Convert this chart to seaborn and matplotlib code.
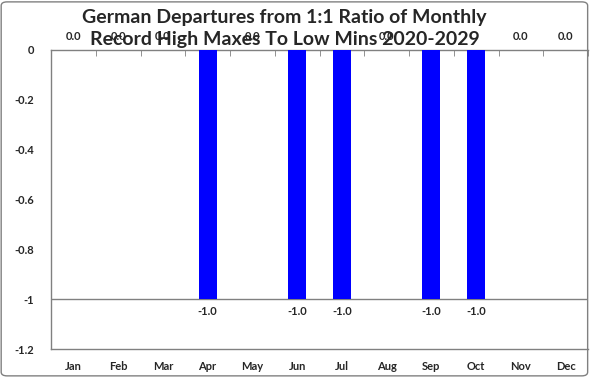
import numpy as np
import pandas as pd
import seaborn as sns
from matplotlib import pyplot as plt
from matplotlib.patches import FancyBboxPatch

# data
months = ['Jan', 'Feb', 'Mar', 'Apr', 'May', 'Jun', 'Jul', 'Aug', 'Sep', 'Oct', 'Nov', 'Dec']
departures = [0.0, 0.0, 0.0, -1.0, 0.0, -1.0, -1.0, 0.0, -1.0, -1.0, 0.0, 0.0]
yticks = [0, -0.2, -0.4, -0.6, -0.8, -1, -1.2]
ytick_labels = ['0', '-0.2', '-0.4', '-0.6', '-0.8', '-1', '-1.2']
title = 'German Departures from 1:1 Ratio of Monthly\nRecord High Maxes To Low Mins 2020-2029'

sns.set_style('white')
plt.rcParams['font.family'] = ['Lato', 'DejaVu Sans']

df = pd.DataFrame({'month': months, 'dep': departures})

fig = plt.figure(figsize=(5.9, 3.77), dpi=100)
ax = fig.add_axes([51 / 590, 1 - 349 / 377, 537 / 590, 299 / 377])

sns.barplot(data=df, x='month', y='dep', color='#0000FF', saturation=1,
            width=0.4, linewidth=0, ax=ax, zorder=3)

ax.set_ylim(-1.2, 0)
ax.set_xlim(-0.5, 11.5)
ax.set_yticks(yticks)
ax.set_yticklabels(ytick_labels, fontsize=8, fontweight='bold')
ax.set_xticklabels(months, fontsize=8, fontweight='bold')
ax.set_xlabel('')
ax.set_ylabel('')

# ticks
ax.tick_params(axis='y', direction='out', length=4, color='#808080', pad=8)
ax.tick_params(axis='x', which='major', length=0, pad=9)
ax.set_xticks(np.arange(-0.5, 12, 1), minor=True)
ax.tick_params(axis='x', which='minor', bottom=False, top=True,
               direction='in', length=4, color='#808080')

for s in ['left', 'top', 'bottom']:
    ax.spines[s].set_color('#808080')
    ax.spines[s].set_linewidth(1)
ax.spines['right'].set_visible(False)
ax.axhline(-1, color='#808080', lw=1, zorder=2)

# value labels
for i, v in enumerate(departures):
    if v < 0:
        ax.text(i, v - 0.05, f'{v:.1f}', ha='center', va='center',
                fontsize=8, fontweight='bold')
    else:
        ax.text(i, v + 0.055, f'{v:.1f}', ha='center', va='center',
                fontsize=8, fontweight='bold', clip_on=False)

fig.text(0.482, 0.977, title, ha='center', va='top', fontsize=14,
         fontweight='bold', linespacing=1.38)

# rounded frame
fig.patches.append(FancyBboxPatch((0.002, 0.003), 0.994, 0.992,
                                  boxstyle='round,pad=0,rounding_size=0.01',
                                  transform=fig.transFigure, fill=False,
                                  ec='#808080', lw=1))

fig.savefig('out.png', dpi=100)
